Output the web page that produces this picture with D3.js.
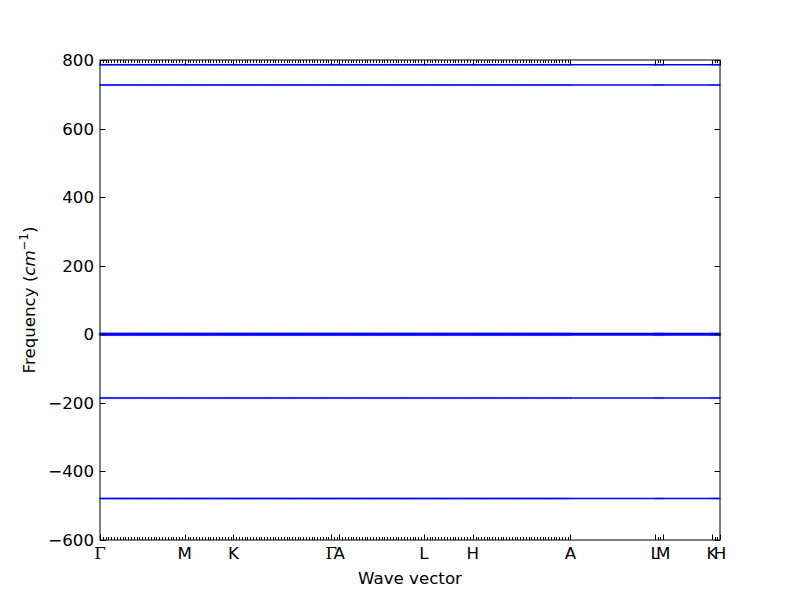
<!DOCTYPE html>
<html>
<head>
<meta charset="utf-8">
<script src="https://cdn.jsdelivr.net/npm/d3@7"></script>
<style>
  body { margin: 0; background: #fff; }
  svg { display: block; }
  text { font-family: "DejaVu Sans", sans-serif; }
</style>
</head>
<body>
<svg id="chart" width="800" height="600"></svg>
<script>
// ---- data ----
const kLabels = ["Γ", "M", "K", "Γ", "A", "L", "H", "A", "L", "M", "K", "H"];
const kLabelPos = [0, 1.0, 1.577, 2.732, 2.827, 3.827, 4.404, 5.559, 6.559, 6.654, 7.231, 7.326];
// number of sampled intervals in each segment between consecutive labels (0 = jump, no samples)
const segIntervals = [30, 17, 35, 3, 30, 17, 35, 0, 3, 0, 3];
// flat band frequencies (cm^-1)
const bandFreqs = [786, 727, 2, 0, -2, -186, -479];
const yTicks = [-600, -400, -200, 0, 200, 400, 600, 800];

// ---- sample grid (q-point positions along the path) ----
const qpts = [];
segIntervals.forEach((n, i) => {
  const a = kLabelPos[i], b = kLabelPos[i + 1];
  if (n === 0) return;
  for (let j = 0; j <= n; j++) qpts.push(a + (b - a) * j / n);
});
const qUnique = Array.from(new Set(qpts.map(v => +v.toFixed(6)))).sort((p, q) => p - q);

// ---- layout ----
const L = 100, R = 720, T = 60, B = 540;
const svg = d3.select("#chart");
const x = d3.scaleLinear().domain([0, kLabelPos[kLabelPos.length - 1]]).range([L, R]);
const y = d3.scaleLinear().domain([-600, 800]).range([B, T]);

const fs = 16.67;

// bands
const line = d3.line().x(d => x(d[0])).y(d => y(d[1]));
const plot = svg.append("g");
bandFreqs.forEach(f => {
  const pts = qUnique.map(q => [q, f]);
  plot.append("path").attr("d", line(pts))
    .attr("fill", "none").attr("stroke", "#0000ff").attr("stroke-width", 1.5);
  plot.selectAll(null).data(pts).enter().append("circle")
    .attr("cx", d => x(d[0])).attr("cy", d => y(d[1])).attr("r", 1.3)
    .attr("fill", "#0000ff").attr("fill-opacity", 0.35);
});

// frame
svg.append("rect").attr("x", L).attr("y", T).attr("width", R - L).attr("height", B - T)
  .attr("fill", "none").attr("stroke", "#000").attr("stroke-width", 1);

// x minor ticks (sample points), inward top and bottom
const tg = svg.append("g").attr("stroke", "#000").attr("stroke-width", 1);
qUnique.forEach(q => {
  const px = Math.round(x(q)) + 0.5;
  tg.append("line").attr("x1", px).attr("x2", px).attr("y1", B).attr("y2", B - 3);
  tg.append("line").attr("x1", px).attr("x2", px).attr("y1", T).attr("y2", T + 3);
});
// x major ticks at labels
kLabelPos.forEach(q => {
  const px = Math.round(x(q)) + 0.5;
  tg.append("line").attr("x1", px).attr("x2", px).attr("y1", B).attr("y2", B - 5.5);
  tg.append("line").attr("x1", px).attr("x2", px).attr("y1", T).attr("y2", T + 5.5);
});
// y ticks left and right inward
yTicks.forEach(v => {
  const py = Math.round(y(v)) + 0.5;
  tg.append("line").attr("x1", L).attr("x2", L + 5.5).attr("y1", py).attr("y2", py);
  tg.append("line").attr("x1", R).attr("x2", R - 5.5).attr("y1", py).attr("y2", py);
});

// x tick labels
svg.append("g").selectAll("text").data(kLabels).enter().append("text")
  .attr("x", (d, i) => x(kLabelPos[i]))
  .attr("y", 559)
  .attr("text-anchor", "middle")
  .attr("font-size", fs)
  .style("font-family", d => d === "Γ" ? "'DejaVu Serif', serif" : "'DejaVu Sans', sans-serif")
  .text(d => d);

// y tick labels
svg.append("g").selectAll("text").data(yTicks).enter().append("text")
  .attr("x", 94)
  .attr("y", d => y(d))
  .attr("dy", "0.36em")
  .attr("text-anchor", "end")
  .attr("font-size", fs)
  .text(d => d < 0 ? "\u2212" + Math.abs(d) : String(d));

// axis labels
svg.append("text").attr("x", (L + R) / 2).attr("y", 584)
  .attr("text-anchor", "middle").attr("font-size", fs).text("Wave vector");

const yl = svg.append("text")
  .attr("transform", "translate(35,300) rotate(-90)")
  .attr("text-anchor", "middle").attr("font-size", fs);
yl.append("tspan").text("Frequency (");
yl.append("tspan").attr("font-style", "italic").text("cm");
yl.append("tspan").attr("font-size", fs * 0.7).attr("dy", -7).text("\u22121");
yl.append("tspan").attr("dy", 7).text(")");
</script>
</body>
</html>
